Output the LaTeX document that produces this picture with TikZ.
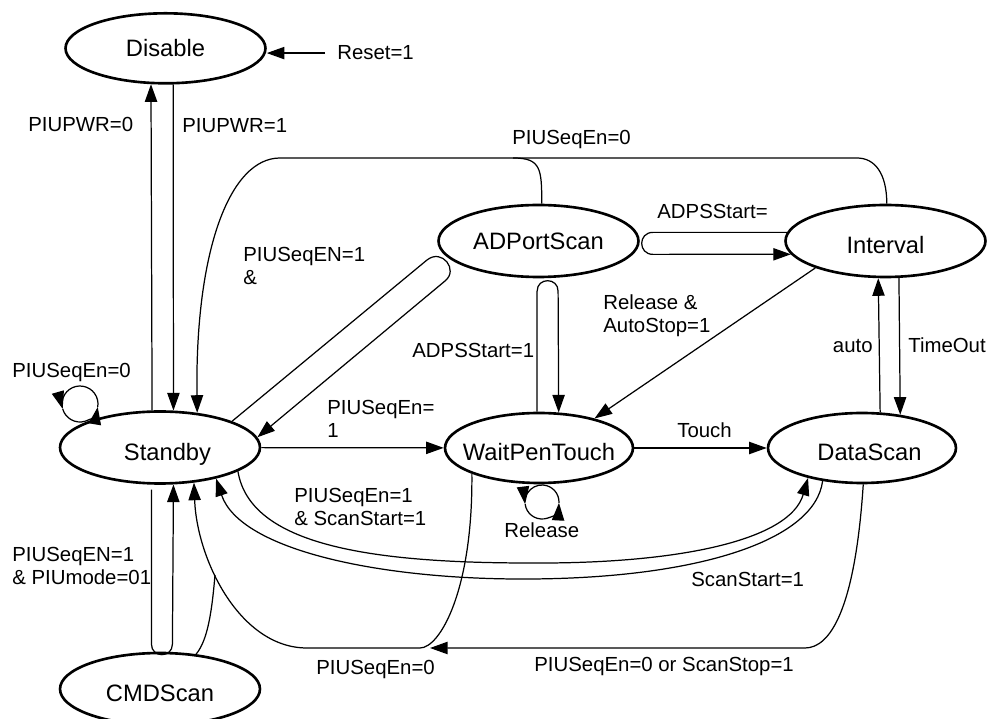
\documentclass[tikz,border=0pt]{standalone}
\usepackage{fontspec}
\setmainfont{Liberation Sans}
\usetikzlibrary{arrows.meta,shapes.geometric}

\begin{document}
\begin{tikzpicture}[
  x=0.02cm, y=-0.02cm,
  state/.style={draw, ellipse, line width=1.5pt, inner sep=0pt,
    minimum width=4cm, minimum height=1.44cm,
    font=\fontsize{13.5pt}{16pt}\selectfont, text height=9.7pt, text depth=0pt},
  low/.style={text height=14.8pt},
  arrow/.style={-{Triangle[length=10pt,width=7pt]}, line width=0.7pt},
  line/.style={line width=0.7pt},
  cond/.style={font=\fontsize{11.6pt}{13.4pt}\selectfont, align=left, inner sep=0pt}
]
  \useasboundingbox (0,0) rectangle (992,719);
  % Nodes
  \node[state, minimum height=1.4cm] (disable) at (165.5,48.3) {Disable};
  \node[state, low] (standby) at (160,447.5) {\hspace*{0.3cm}Standby};
  \node[state, low] (cmd) at (160,689) {CMDScan};
  \node[state] (adport) at (538.5,241) {ADPortScan};
  \node[state, low] (interval) at (885.5,241) {Interval};
  \node[state, low, minimum width=3.76cm, minimum height=1.4cm, inner xsep=-7pt]
    (wpt) at (539,448) {WaitPenTouch};
  \node[state, low, minimum width=3.76cm, minimum height=1.4cm]
    (datascan) at (862,448) {\hspace*{0.3cm}DataScan};
  \coordinate (topj) at (513,158);
  \coordinate (botj) at (430,648);
  \coordinate (cmdj) at (215,575);
  \coordinate (sbloop) at (80,404);
  \coordinate (wploop) at (542,502);
  % Conditions (multi-line ones sit on their last line)
  \node[cond, anchor=base west] (lreset) at (337,60) {Reset=1};
  \node[cond, anchor=base west] (lpwr0) at (28,131.5) {PIUPWR=0};
  \node[cond, anchor=base west] (lpwr1) at (182,133) {PIUPWR=1};
  \node[cond, anchor=base west] (lseq0top) at (512,145) {PIUSeqEn=0};
  \node[cond, anchor=base west] (lseq1a) at (243,285) {PIUSeqEN=1\\\&};
  \node[cond, anchor=base west] (ladps) at (657,219) {ADPSStart=};
  \node[cond, anchor=base west] (lrel) at (603,333) {Release \&\\AutoStop=1};
  \node[cond, anchor=base west] (ladps1) at (412,358) {ADPSStart=1};
  \node[cond, anchor=base east] (lauto) at (873,353) {auto};
  \node[cond, anchor=base west] (ltime) at (908,353) {TimeOut};
  \node[cond, anchor=base west] (lloop) at (12,378) {PIUSeqEn=0};
  \node[cond, anchor=base west] (lseq1b) at (327,438) {PIUSeqEn=\\1};
  \node[cond, anchor=base west] (ltouch) at (677,438) {Touch};
  \node[cond, anchor=base west] (lseqscan) at (294,526) {PIUSeqEn=1\\\& ScanStart=1};
  \node[cond, anchor=base west] (lrelease) at (504,538) {Release};
  \node[cond, anchor=base west] (lcmd) at (12,585) {PIUSeqEN=1\\\& PIUmode=01};
  \node[cond, anchor=base west] (lscan) at (691,587) {ScanStart=1};
  \node[cond, anchor=base west] (lseq0bot) at (316,675) {PIUSeqEn=0};
  \node[cond, anchor=base west] (lstop) at (534,672) {PIUSeqEn=0 or ScanStop=1};
  % Arrows
  \draw[arrow] ([xshift=-0.24cm]lreset.west) -- (lreset.west -| disable.east);
  \draw[arrow] (standby.102.6) -- (disable.248.7);
  \draw[arrow] (disable.282.1) -- (standby.70);
  \draw[arrow] (interval.88) .. controls +(0,-30) and +(18,0) .. (857,158)
    -- (280,158) .. controls (230,158) and (195,250) .. (standby.43.9);
  \draw[line] (adport.85) .. controls +(0,-35) and +(28,0) .. (topj);
  \draw[arrow] (standby.20) -- (427,260) .. controls (442,248) and (459,270) .. (445,281)
    -- (standby.6);
  \draw[arrow] (interval.175.3) -- ++(-134,0) .. controls +(-15,0) and +(-15,0) .. ++(0,22)
    -- (interval.188.6);
  \draw[arrow] (wpt.93.3) -- ++(0,-120.5) .. controls +(0,-14) and +(0,-14) .. ++(21,0)
    -- (wpt.61);
  \draw[arrow] (interval.201.5) -- (wpt.28);
  \draw[arrow] (datascan.63.7) -- (interval.259.7);
  \draw[arrow] (interval.290.9) -- (datascan.41);
  \draw[arrow] (standby) -- (wpt);
  \draw[arrow] (wpt) -- (datascan);
  \draw[arrow] (standby.-17) .. controls (250,545) and (370,563) .. (530,563)
    .. controls (680,564) and (790,540) .. (datascan.209.3);
  \draw[arrow] (datascan.220) .. controls (815,540) and (700,578) .. (530,579)
    .. controls (380,580) and (240,550) .. (standby.331.3);
  \draw[arrow] (datascan.272) .. controls (855,610) and (830,648) .. (805,648) -- (botj);
  \draw[arrow] (wpt.201.8) .. controls (473,590) and (440,648) .. (420,648) -- (307,648)
    .. controls (240,648) and (197,560) .. (standby.314.2);
  \draw[line] (cmd.44) .. controls (208,640) and (212,610) .. (cmdj);
  \draw[arrow, shorten <=0.1cm] (standby.257.4) -- ++(0,159.5)
    .. controls +(0,14) and +(0,14) .. ++(21,0) -- (standby.290);
  % Self loops
  \draw[arrow] (sbloop) ++(-9.5:0.36cm) arc[start angle=-9.5, end angle=196, radius=0.36cm];
  \draw[arrow] (sbloop) ++(196:0.36cm) arc[start angle=196, end angle=350.5, radius=0.36cm];
  \draw[arrow] (wploop) ++(-3:0.34cm) arc[start angle=-3, end angle=187, radius=0.34cm];
  \draw[arrow] (wploop) ++(187:0.34cm) arc[start angle=187, end angle=357, radius=0.34cm];
\end{tikzpicture}
\end{document}
